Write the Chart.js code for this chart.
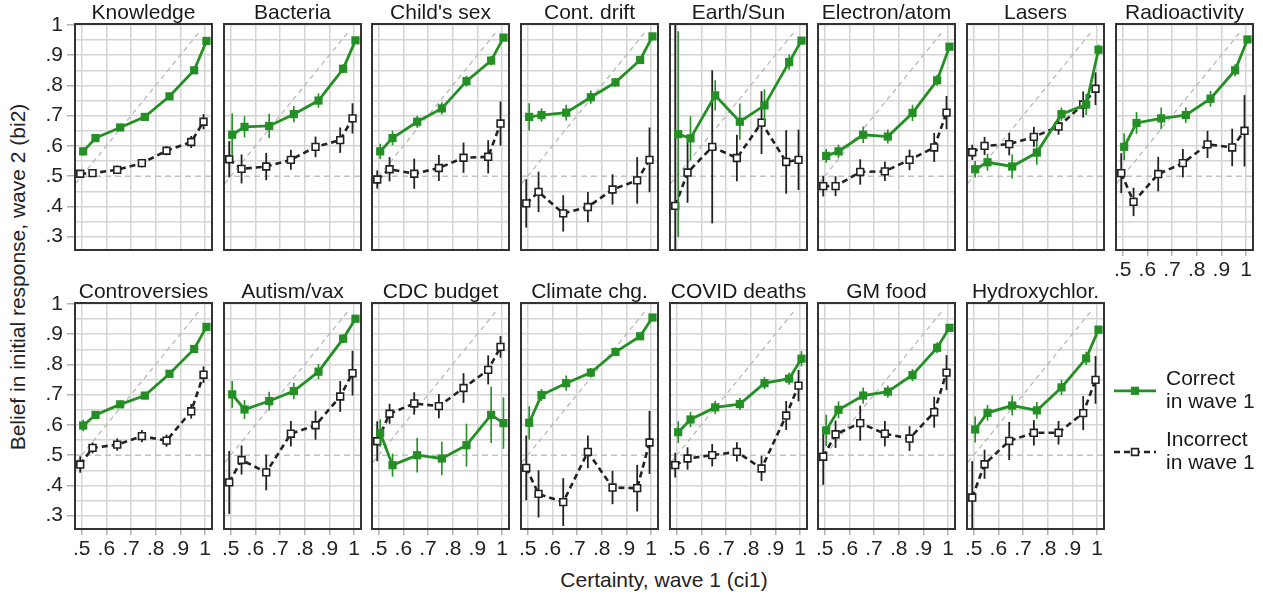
<!DOCTYPE html>
<html>
<head>
<meta charset="utf-8">
<script src="https://cdn.jsdelivr.net/npm/chart.js@4.4.1/dist/chart.umd.min.js"></script>
<style>
  html, body { margin: 0; padding: 0; background: #fff; width: 1263px; height: 600px; overflow: hidden;
               font-family: "Liberation Sans", Arial, Helvetica, sans-serif; }
  .axis-title { position: absolute; white-space: nowrap; font-size: 21px; color: #222; }
  #ytitle { left: 18px; top: 277px; transform: translate(-50%, -50%) rotate(-90deg); }
  #xtitle { left: 664px; top: 580px; transform: translate(-50%, -50%); }
</style>
</head>
<body>
<div id="ytitle" class="axis-title">Belief in initial response, wave 2 (bi2)</div>
<div id="xtitle" class="axis-title">Certainty, wave 1 (ci1)</div>
<script>
// ---- data: mean belief in wave 2 by wave-1 certainty bin, with CI half-widths ----
const certaintyBins = [0.5, 0.55, 0.65, 0.75, 0.85, 0.95, 1.0];
const diagonalX = [0.476, 0.978];
const chanceLevel = 0.5;

const knowledge_correct       = [0.582, 0.626, 0.661, 0.696, 0.764, 0.850, 0.947];
const knowledge_correct_err   = [0.014, 0.010, 0.010, 0.010, 0.010, 0.010, 0.008];
const knowledge_incorrect     = [0.508, 0.510, 0.521, 0.543, 0.584, 0.613, 0.680];
const knowledge_incorrect_err = [0.012, 0.012, 0.014, 0.014, 0.015, 0.020, 0.025];

const bacteria_correct       = [0.637, 0.663, 0.666, 0.705, 0.750, 0.855, 0.949];
const bacteria_correct_err   = [0.070, 0.035, 0.040, 0.027, 0.024, 0.015, 0.010];
const bacteria_incorrect     = [0.556, 0.524, 0.532, 0.554, 0.597, 0.619, 0.691];
const bacteria_incorrect_err = [0.060, 0.048, 0.045, 0.033, 0.034, 0.042, 0.050];

const childsex_correct       = [0.582, 0.626, 0.680, 0.724, 0.814, 0.882, 0.958];
const childsex_correct_err   = [0.025, 0.024, 0.020, 0.020, 0.018, 0.015, 0.010];
const childsex_incorrect     = [0.489, 0.523, 0.508, 0.527, 0.561, 0.564, 0.674];
const childsex_incorrect_err = [0.030, 0.040, 0.050, 0.043, 0.050, 0.055, 0.073];

const contdrift_correct       = [0.696, 0.702, 0.710, 0.761, 0.810, 0.884, 0.962];
const contdrift_correct_err   = [0.045, 0.022, 0.026, 0.022, 0.015, 0.012, 0.008];
const contdrift_incorrect     = [0.410, 0.448, 0.377, 0.398, 0.456, 0.486, 0.554];
const contdrift_incorrect_err = [0.080, 0.067, 0.060, 0.050, 0.050, 0.077, 0.107];

const earthsun_correct       = [0.639, 0.625, 0.767, 0.680, 0.734, 0.877, 0.948];
const earthsun_correct_err   = [0.340, 0.073, 0.050, 0.060, 0.053, 0.025, 0.010];
const earthsun_incorrect     = [0.402, 0.512, 0.597, 0.560, 0.677, 0.547, 0.554];
const earthsun_incorrect_err = [0.700, 0.100, 0.253, 0.077, 0.104, 0.105, 0.100];

const electron_correct       = [0.567, 0.582, 0.637, 0.631, 0.709, 0.817, 0.928];
const electron_correct_err   = [0.023, 0.022, 0.027, 0.023, 0.027, 0.018, 0.010];
const electron_incorrect     = [0.467, 0.467, 0.514, 0.516, 0.554, 0.595, 0.710];
const electron_incorrect_err = [0.034, 0.033, 0.042, 0.032, 0.034, 0.048, 0.055];

const lasers_correct       = [0.523, 0.546, 0.532, 0.578, 0.705, 0.737, 0.918];
const lasers_correct_err   = [0.027, 0.028, 0.040, 0.040, 0.022, 0.035, 0.017];
const lasers_incorrect     = [0.579, 0.600, 0.606, 0.630, 0.664, 0.737, 0.789];
const lasers_incorrect_err = [0.025, 0.030, 0.037, 0.033, 0.027, 0.043, 0.054];

const radio_correct       = [0.597, 0.676, 0.691, 0.702, 0.756, 0.850, 0.952];
const radio_correct_err   = [0.044, 0.036, 0.036, 0.026, 0.026, 0.020, 0.010];
const radio_incorrect     = [0.510, 0.415, 0.507, 0.543, 0.605, 0.595, 0.650];
const radio_incorrect_err = [0.066, 0.047, 0.057, 0.047, 0.045, 0.062, 0.118];

const controv_correct       = [0.598, 0.633, 0.668, 0.697, 0.769, 0.851, 0.924];
const controv_correct_err   = [0.019, 0.012, 0.012, 0.012, 0.012, 0.012, 0.012];
const controv_incorrect     = [0.469, 0.524, 0.535, 0.563, 0.548, 0.645, 0.766];
const controv_incorrect_err = [0.027, 0.018, 0.020, 0.020, 0.020, 0.024, 0.027];

const autism_correct       = [0.701, 0.651, 0.679, 0.712, 0.776, 0.885, 0.951];
const autism_correct_err   = [0.044, 0.031, 0.031, 0.027, 0.025, 0.015, 0.010];
const autism_incorrect     = [0.410, 0.484, 0.443, 0.571, 0.599, 0.694, 0.771];
const autism_incorrect_err = [0.104, 0.048, 0.059, 0.042, 0.048, 0.051, 0.074];

const cdc_correct       = [0.573, 0.467, 0.500, 0.489, 0.533, 0.633, 0.606];
const cdc_correct_err   = [0.045, 0.038, 0.057, 0.055, 0.071, 0.093, 0.085];
const cdc_incorrect     = [0.546, 0.637, 0.671, 0.662, 0.722, 0.782, 0.858];
const cdc_incorrect_err = [0.066, 0.033, 0.037, 0.040, 0.049, 0.048, 0.036];

const climate_correct       = [0.607, 0.699, 0.738, 0.773, 0.841, 0.893, 0.955];
const climate_correct_err   = [0.055, 0.020, 0.025, 0.015, 0.012, 0.012, 0.010];
const climate_incorrect     = [0.458, 0.372, 0.345, 0.511, 0.393, 0.391, 0.542];
const climate_incorrect_err = [0.107, 0.078, 0.079, 0.054, 0.055, 0.077, 0.104];

const covid_correct       = [0.576, 0.618, 0.658, 0.669, 0.738, 0.753, 0.819];
const covid_correct_err   = [0.036, 0.025, 0.022, 0.020, 0.020, 0.020, 0.025];
const covid_incorrect     = [0.467, 0.489, 0.500, 0.511, 0.456, 0.631, 0.730];
const covid_incorrect_err = [0.041, 0.037, 0.037, 0.032, 0.041, 0.048, 0.052];

const gmfood_correct       = [0.582, 0.650, 0.697, 0.710, 0.765, 0.855, 0.921];
const gmfood_correct_err   = [0.052, 0.028, 0.027, 0.020, 0.020, 0.018, 0.012];
const gmfood_incorrect     = [0.495, 0.569, 0.606, 0.571, 0.555, 0.642, 0.773];
const gmfood_incorrect_err = [0.093, 0.045, 0.058, 0.042, 0.041, 0.051, 0.058];

const hcq_correct       = [0.585, 0.640, 0.664, 0.648, 0.724, 0.820, 0.915];
const hcq_correct_err   = [0.043, 0.026, 0.033, 0.028, 0.025, 0.022, 0.012];
const hcq_incorrect     = [0.360, 0.470, 0.547, 0.574, 0.574, 0.639, 0.749];
const hcq_incorrect_err = [0.120, 0.048, 0.063, 0.042, 0.039, 0.056, 0.079];

const panels = [
  { title: 'Knowledge',      c: knowledge_correct, ce: knowledge_correct_err, w: knowledge_incorrect, we: knowledge_incorrect_err },
  { title: 'Bacteria',       c: bacteria_correct,  ce: bacteria_correct_err,  w: bacteria_incorrect,  we: bacteria_incorrect_err },
  { title: "Child's sex",    c: childsex_correct,  ce: childsex_correct_err,  w: childsex_incorrect,  we: childsex_incorrect_err },
  { title: 'Cont. drift',    c: contdrift_correct, ce: contdrift_correct_err, w: contdrift_incorrect, we: contdrift_incorrect_err },
  { title: 'Earth/Sun',      c: earthsun_correct,  ce: earthsun_correct_err,  w: earthsun_incorrect,  we: earthsun_incorrect_err },
  { title: 'Electron/atom',  c: electron_correct,  ce: electron_correct_err,  w: electron_incorrect,  we: electron_incorrect_err },
  { title: 'Lasers',         c: lasers_correct,    ce: lasers_correct_err,    w: lasers_incorrect,    we: lasers_incorrect_err },
  { title: 'Radioactivity',  c: radio_correct,     ce: radio_correct_err,     w: radio_incorrect,     we: radio_incorrect_err },
  { title: 'Controversies',  c: controv_correct,   ce: controv_correct_err,   w: controv_incorrect,   we: controv_incorrect_err },
  { title: 'Autism/vax',     c: autism_correct,    ce: autism_correct_err,    w: autism_incorrect,    we: autism_incorrect_err },
  { title: 'CDC budget',     c: cdc_correct,       ce: cdc_correct_err,       w: cdc_incorrect,       we: cdc_incorrect_err },
  { title: 'Climate chg.',   c: climate_correct,   ce: climate_correct_err,   w: climate_incorrect,   we: climate_incorrect_err },
  { title: 'COVID deaths',   c: covid_correct,     ce: covid_correct_err,     w: covid_incorrect,     we: covid_incorrect_err },
  { title: 'GM food',        c: gmfood_correct,    ce: gmfood_correct_err,    w: gmfood_incorrect,    we: gmfood_incorrect_err },
  { title: 'Hydroxychlor.',  c: hcq_correct,       ce: hcq_correct_err,       w: hcq_incorrect,       we: hcq_incorrect_err },
];

// ---- layout & style ----
Chart.defaults.font.family = '"Liberation Sans", Arial, Helvetica, sans-serif';
Chart.defaults.color = '#222';

const GREEN = '#248f24';
const DARK = '#222';
const GRID = '#d4d4d4';
const TICK = '#b0b0b0';
const FRAME_W = 137, FRAME_H = 226;
const FIRST_LEFT = 75, COL_STEP = 148.65;
const ROW_TOP = [24, 303];
const TITLE_H = 24, AXIS_H = 30, PAD_R = 12;
const X_MIN = 0.4728, X_MAX = 1.0284;
const Y_MIN = 0.256, Y_MAX = 1.003;
const DODGE = 0.006;

const isMajor = v => Math.abs(v * 10 - Math.round(v * 10)) < 1e-6;
const fmt = v => (Math.abs(v - 1) < 1e-6 ? '1' : '.' + Math.round(v * 10));

const errorBars = {
  id: 'errorBars',
  beforeDatasetDraw(chart, args) {
    const ds = chart.data.datasets[args.index];
    if (!ds.errors) return;
    const { ctx, chartArea: a, scales: { x, y } } = chart;
    ctx.save();
    ctx.beginPath();
    ctx.rect(a.left, a.top, a.right - a.left, a.bottom - a.top);
    ctx.clip();
    ctx.strokeStyle = ds.errorColor;
    ctx.lineWidth = ds.errorWidth;
    ctx.setLineDash([]);
    ds.data.forEach((pt, k) => {
      const e = ds.errors[k];
      const px = x.getPixelForValue(pt.x);
      ctx.beginPath();
      ctx.moveTo(px, y.getPixelForValue(pt.y - e));
      ctx.lineTo(px, y.getPixelForValue(pt.y + e));
      ctx.stroke();
    });
    ctx.restore();
  }
};

const chanceLine = {
  id: 'chanceLine',
  beforeDatasetsDraw(chart) {
    const { ctx, chartArea: a, scales: { y } } = chart;
    const py = y.getPixelForValue(chanceLevel);
    ctx.save();
    ctx.strokeStyle = '#c2c2c2';
    ctx.lineWidth = 1.5;
    ctx.setLineDash([6, 4]);
    ctx.beginPath();
    ctx.moveTo(a.left, py);
    ctx.lineTo(a.right, py);
    ctx.stroke();
    ctx.restore();
  }
};

const panelFrame = {
  id: 'panelFrame',
  afterDraw(chart) {
    const { ctx, chartArea: a } = chart;
    ctx.save();
    ctx.strokeStyle = '#333';
    ctx.lineWidth = 2;
    ctx.setLineDash([]);
    ctx.strokeRect(a.left, a.top, a.right - a.left, a.bottom - a.top);
    ctx.restore();
  }
};

// side legend, drawn next to the last panel from the series' own styles
const sideLegend = {
  id: 'sideLegend',
  afterDraw(chart) {
    const { ctx, chartArea: a } = chart;
    const rows = [87.8, 149];
    const series = chart.data.datasets.filter(d => d.inLegend);
    series.sort((p, q) => p.legendRank - q.legendRank);
    series.forEach((ds, i) => {
      const yMid = a.top + rows[i];
      const x0 = a.right + 10, x1 = a.right + 52;
      ctx.save();
      ctx.strokeStyle = ds.borderColor;
      ctx.lineWidth = ds.borderWidth;
      ctx.setLineDash(ds.borderDash || []);
      ctx.beginPath();
      ctx.moveTo(x0, yMid);
      ctx.lineTo(x1, yMid);
      ctx.stroke();
      ctx.setLineDash([]);
      ctx.fillStyle = ds.pointBackgroundColor;
      ctx.strokeStyle = ds.pointBorderColor;
      ctx.lineWidth = ds.pointBorderWidth;
      Chart.helpers.drawPoint(ctx, { pointStyle: 'rect', radius: ds.pointRadius, borderWidth: ds.pointBorderWidth, rotation: 0 }, (x0 + x1) / 2, yMid);
      ctx.fillStyle = '#1a1a1a';
      ctx.font = '21px "Liberation Sans", Arial, Helvetica, sans-serif';
      ctx.textBaseline = 'middle';
      ctx.textAlign = 'left';
      const lines = ds.label.split('\n');
      ctx.fillText(lines[0], a.right + 62, yMid - 11.7);
      ctx.fillText(lines[1], a.right + 62, yMid + 11.7);
      ctx.restore();
    });
  }
};

panels.forEach((p, i) => {
  const row = i < 8 ? 0 : 1;
  const col = row === 0 ? i : i - 8;
  const frameLeft = Math.round(FIRST_LEFT + col * COL_STEP);
  const frameTop = ROW_TOP[row];
  const showY = col === 0;
  const showX = row === 1 || i === 7;
  const legendHost = i === panels.length - 1;
  const padL = showY ? 75 : 12;
  const canvasLeft = frameLeft - padL;
  const canvasTop = frameTop - TITLE_H;
  const canvasW = legendHost ? 1263 - canvasLeft : padL + FRAME_W + PAD_R;
  const canvasH = TITLE_H + FRAME_H + AXIS_H;

  const cv = document.createElement('canvas');
  cv.width = canvasW;
  cv.height = canvasH;
  cv.style.cssText = `position:absolute;left:${canvasLeft}px;top:${canvasTop}px;width:${canvasW}px;height:${canvasH}px`;
  document.body.appendChild(cv);

  new Chart(cv, {
    type: 'line',
    data: {
      datasets: [
        {
          label: 'Correct\nin wave 1',
          data: certaintyBins.map((b, k) => ({ x: b + DODGE, y: p.c[k] })),
          errors: p.ce, errorColor: GREEN, errorWidth: 1.6,
          borderColor: GREEN, borderWidth: 2.8,
          pointStyle: 'rect', pointRadius: 5.8, pointBackgroundColor: GREEN,
          pointBorderColor: GREEN, pointBorderWidth: 0,
          tension: 0, order: 1, inLegend: true, legendRank: 0
        },
        {
          label: 'Incorrect\nin wave 1',
          data: certaintyBins.map((b, k) => ({ x: b - DODGE, y: p.w[k] })),
          errors: p.we, errorColor: DARK, errorWidth: 1.8,
          borderColor: DARK, borderWidth: 2.6, borderDash: [6, 4],
          pointStyle: 'rect', pointRadius: 4.8, pointBackgroundColor: '#fff',
          pointBorderColor: DARK, pointBorderWidth: 1.6,
          tension: 0, order: 2, inLegend: true, legendRank: 1
        },
        {
          label: 'y = x',
          data: diagonalX.map(v => ({ x: v, y: v })),
          borderColor: '#b5b5b5', borderWidth: 1.2, borderDash: [5, 4],
          pointRadius: 0, order: 3
        }
      ]
    },
    options: {
      responsive: false,
      animation: false,
      events: [],
      layout: { padding: { left: showY ? 0 : padL, right: canvasW - padL - FRAME_W, top: 0, bottom: 0 } },
      plugins: {
        legend: { display: false },
        tooltip: { enabled: false },
        title: {
          display: true, text: p.title, color: '#1a1a1a', fullSize: false,
          font: { size: 21, weight: 'normal', lineHeight: 1 },
          padding: { top: 2.5, bottom: 0.5 }
        }
      },
      scales: {
        x: {
          type: 'linear', min: X_MIN, max: X_MAX,
          afterFit: s => { s.height = AXIS_H; },
          border: { display: false },
          grid: { color: GRID, lineWidth: 1.5, drawTicks: showX, tickLength: 6, tickColor: TICK, tickWidth: 1.5 },
          ticks: {
            display: showX, stepSize: 0.1, includeBounds: false, autoSkip: false, maxRotation: 0,
            padding: 2, font: { size: 21 }, color: DARK, callback: v => fmt(v)
          }
        },
        y: {
          type: 'linear', min: Y_MIN, max: Y_MAX,
          afterFit: s => { s.width = showY ? padL : 0; },
          border: { display: false },
          grid: {
            color: c => (Math.abs(c.tick.value - chanceLevel) < 1e-6 ? 'rgba(0,0,0,0)' : GRID),
            lineWidth: 1.5, drawTicks: showY, tickLength: 8, tickWidth: 1.5,
            tickColor: c => (isMajor(c.tick.value) ? TICK : 'rgba(0,0,0,0)')
          },
          ticks: {
            display: showY, stepSize: 0.05, includeBounds: false, autoSkip: false,
            padding: 4, font: { size: 21 }, color: DARK,
            callback: v => (isMajor(v) ? fmt(v) : '')
          }
        }
      }
    },
    plugins: legendHost ? [chanceLine, errorBars, panelFrame, sideLegend] : [chanceLine, errorBars, panelFrame]
  });
});
</script>
</body>
</html>
